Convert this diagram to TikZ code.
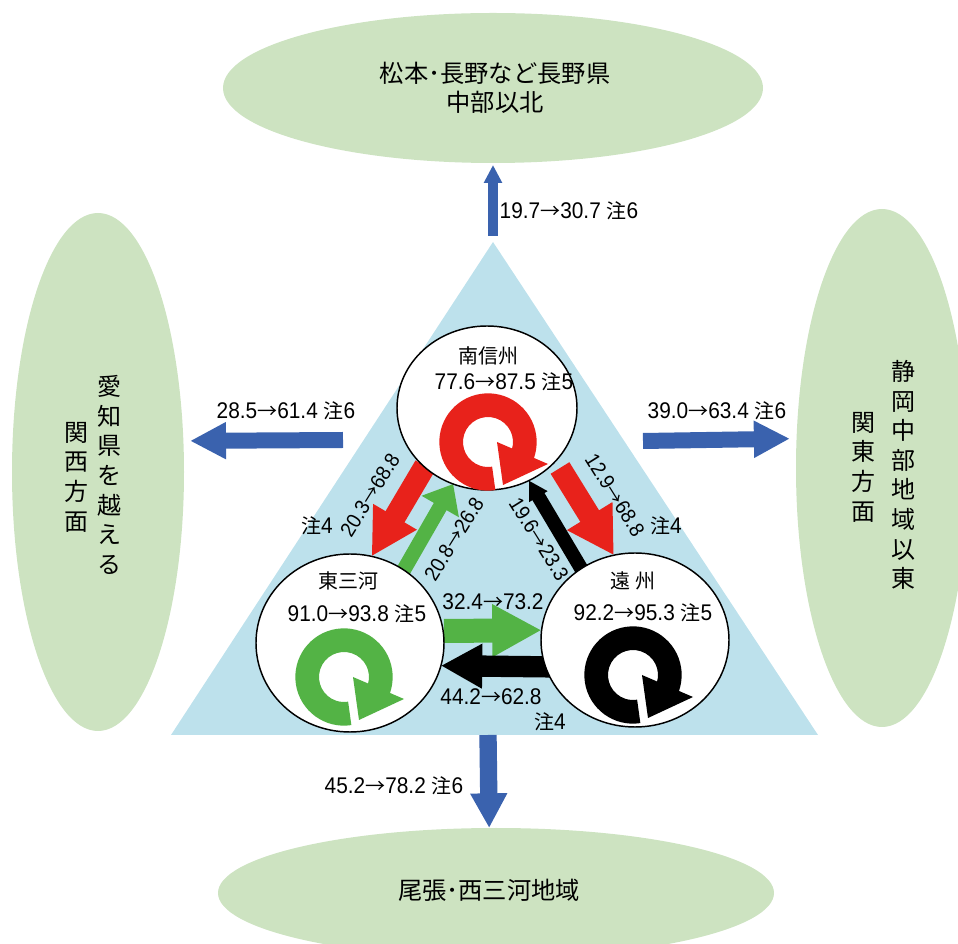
\documentclass[tikz,border=0pt]{standalone}
\usepackage{fontspec}
\setmainfont[FakeStretch=0.92]{Liberation Sans}
\newfontfamily\cjk{Noto Sans CJK JP}
\usetikzlibrary{shapes.geometric,arrows.meta}
\pgfdeclarelayer{tri}
\pgfdeclarelayer{arr}
\pgfsetlayers{tri,arr,main}
\definecolor{regiongreen}{HTML}{CDE3C1}
\definecolor{tribg}{HTML}{BDE1EC}
\definecolor{flowblue}{HTML}{3A62AE}
\definecolor{flowred}{HTML}{E8221B}
\definecolor{flowgreen}{HTML}{53B345}
\tikzset{
  region/.style={ellipse,fill=regiongreen,inner sep=0pt,outer sep=0pt,align=center,font=\cjk\fontsize{18.2}{21.8}\selectfont},
  city/.style={ellipse,fill=white,draw=black,line width=1.1pt,inner sep=0pt,outer sep=0pt},
  val/.style={inner sep=0pt,font=\fontsize{17}{18}\selectfont},
  rval/.style={inner sep=0pt,font=\fontsize{15.6}{18}\selectfont},
  title/.style={inner sep=0pt,font=\cjk\fontsize{15}{18}\selectfont},
  vert/.style={inner sep=0pt,align=center,font=\cjk\fontsize{18}{22.2}\selectfont},
  blueh/.style={flowblue,line width=12pt,-{Triangle[length=27pt,width=26pt]}}
}
\newcommand{\chu}[1]{{\cjk\fontsize{15}{18}\selectfont 注}#1}
\newcommand{\ar}{{\cjk\fontsize{15}{18}\selectfont →}}
\newcommand{\ars}{{\cjk\fontsize{14}{18}\selectfont →}}
\newcommand{\ringarrow}[3]{%
  \begin{scope}[shift={(#1,#2)},x=.75pt,y=.75pt]
    \fill[#3] (-81.3:36.5pt) arc[start angle=-81.3,end angle=-382,radius=36.5pt]
      -- (-378:18.75pt) arc[start angle=-378,end angle=-80.5,radius=18.75pt] -- cycle;
    \fill[#3] (9,0) -- (60,-22) -- (15,-43) -- cycle;
  \end{scope}}
\begin{document}
\begin{tikzpicture}[x=.75pt,y=-.75pt]
\useasboundingbox (0,0) rectangle (958,944);
\clip (0,0) rectangle (958,944);
% regions
\node[region,minimum width=405pt,minimum height=112.5pt] (top) at (493,88) {};
\node[region,minimum width=417pt,minimum height=97.5pt] (bot) at (496,893) {};
\node[region,minimum width=129pt,minimum height=388.5pt] (lft) at (98,472) {};
\node[region,minimum width=129pt,minimum height=388.5pt] (rgt) at (882,468) {};
\node[region,fill=none] (toplabel) at (495,88) {松本･長野など長野県\\中部以北};
\node[region,fill=none] (botlabel) at (489,890) {尾張･西三河地域};
\node[vert] (l1) at (109,475) {愛\\知\\県\\を\\越\\え\\る};
\node[vert] (l2) at (76,477) {関\\西\\方\\面};
\node[vert] (r1) at (903,475) {静\\岡\\中\\部\\地\\域\\以\\東};
\node[vert] (r2) at (863,467) {関\\東\\方\\面};
% cities
\node[city,minimum width=135pt,minimum height=123pt] (nan) at (487,408) {};
\node[city,minimum width=141pt,minimum height=133.5pt] (hig) at (350,643) {};
\node[city,minimum width=141pt,minimum height=130.5pt] (ens) at (635,640) {};
% triangle
\coordinate (apex) at (493,242);
\coordinate (bl) at (171,735);
\coordinate (br) at (818,735);
\begin{pgfonlayer}{tri}
  \fill[tribg] (apex) -- (bl) -- (br) -- cycle;
\end{pgfonlayer}
% tails
\coordinate (t1) at (493,236);
\coordinate (t2) at (343,440);
\coordinate (t3) at (643,441);
\coordinate (t4) at (488,735);
\coordinate (t5) at (425,466);
\coordinate (t6) at (560,468);
\coordinate (t7) at (398,580);
\coordinate (t8) at (585,575);
\coordinate (t9) at (444,631);
\coordinate (t10) at (560,667);
\begin{pgfonlayer}{arr}
  \draw[flowblue,line width=7pt,-{Triangle[length=13.5pt,width=13pt]},shorten >=1.5pt] (t1) -- (top.south);
  \draw[blueh,shorten >=5pt] (t2) -- (lft.20);
  \draw[blueh,shorten >=5pt] (t3) -- (rgt.161.3);
  \draw[flowblue,line width=13pt,-{Triangle[length=26pt,width=26pt]}] (t4) -- (bot.96);
  \draw[flowred,line width=16.5pt,-{Triangle[length=34.5pt,width=35.5pt]}] (t5) -- (hig.76);
  \draw[flowred,line width=16.5pt,-{Triangle[length=34.5pt,width=37.5pt]}] (t6) -- (ens.104.2);
  \draw[flowgreen,line width=11pt,-{Triangle[length=19.5pt,width=31pt]}] (t7) -- (nan.246.7);
  \draw[black,line width=10.5pt,-{Triangle[length=14pt,width=15pt]}] (t8) -- (nan.300.9);
  \draw[flowgreen,line width=18pt,-{Triangle[length=37pt,width=37pt]}] (t9) -- (ens.174.5);
  \draw[black,line width=16pt,-{Triangle[length=31pt,width=31.5pt]}] (t10) -- (hig.-14.5);
  \node[rval,rotate=-58] (n19) at (539,539) {19.6\ars 23.3};
\end{pgfonlayer}
% rings
\ringarrow{488}{442}{flowred}
\ringarrow{344}{677}{flowgreen}
\ringarrow{633}{675}{black}
% titles
\node[title] (tn) at (488,356) {南信州};
\node[title] (th) at (348,581) {東三河};
\node[title] (te) at (633,581) {遠 州};
% values
\node[val] (vn) at (504,382) {77.6\ar 87.5 \chu{5}};
\node[val] (vh) at (357,614) {91.0\ar 93.8 \chu{5}};
\node[val] (ve) at (643,613) {92.2\ar 95.3 \chu{5}};
\node[val] (a1) at (569,211) {19.7\ar 30.7 \chu{6}};
\node[val] (a2) at (286,411) {28.5\ar 61.4 \chu{6}};
\node[val] (a3) at (717,411) {39.0\ar 63.4 \chu{6}};
\node[val] (a4) at (394,786) {45.2\ar 78.2 \chu{6}};
\node[val] (a5) at (493,602) {32.4\ar 73.2};
\node[val] (a6) at (491,697) {44.2\ar 62.8};
\node[val] (a7) at (550,722) {\chu{4}};
\node[rval,rotate=58] (a8) at (370,495) {20.3\ars 68.8};
\node[val] (a9) at (317,526) {\chu{4}};
\node[rval,rotate=-58] (a10) at (615,495) {12.9\ars 68.8};
\node[val] (a11) at (666,526) {\chu{4}};
\node[rval,rotate=58] (a12) at (454,539) {20.8\ars 26.8};
\end{tikzpicture}
\end{document}
